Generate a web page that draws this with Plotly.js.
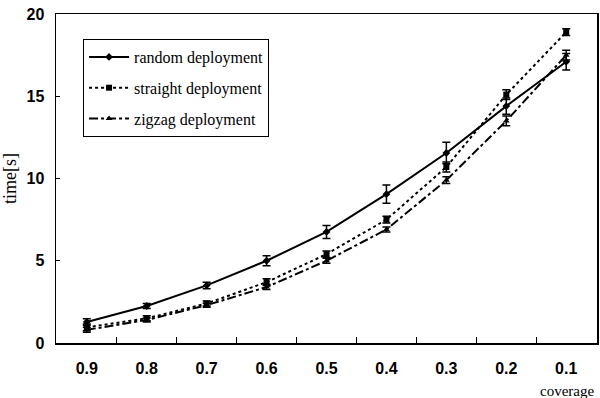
<!DOCTYPE html>
<html>
<head>
<meta charset="utf-8">
<script src="https://cdn.plot.ly/plotly-3.0.1.min.js"></script>
<style>html,body{margin:0;padding:0;background:#fff;}#chart{width:600px;height:398px;}</style>
</head>
<body>
<div id="chart"></div>
<script>
const coverage = ["0.9","0.8","0.7","0.6","0.5","0.4","0.3","0.2","0.1"];
const randomTime = [1.28, 2.25, 3.5, 5.0, 6.75, 9.05, 11.55, 14.4, 17.1];
const randomErr  = [0.2, 0.15, 0.2, 0.3, 0.4, 0.55, 0.65, 0.5, 0.5];
const straightTime = [0.95, 1.5, 2.4, 3.7, 5.4, 7.5, 10.7, 15.1, 18.9];
const straightErr  = [0.2, 0.15, 0.15, 0.2, 0.2, 0.2, 0.3, 0.3, 0.2];
const zigzagTime = [0.8, 1.4, 2.3, 3.4, 5.0, 6.9, 9.9, 13.5, 17.5];
const zigzagErr  = [0.15, 0.12, 0.12, 0.15, 0.15, 0.15, 0.2, 0.3, 0.3];
const names = ["random deployment", "straight deployment", "zigzag deployment"];

const serif = "'Liberation Serif', 'Times New Roman', serif";
const narrow = "'Liberation Sans Narrow', 'Arial Narrow', 'Liberation Sans', sans-serif";

function tr(y, err, name, dash, symbol, grp) {
  return {
    x: coverage, y: y, name: name, type: "scatter", mode: "lines+markers",
    legendgroup: grp,
    line: {color: "#000", width: 2, dash: dash},
    marker: {symbol: symbol, size: 6, color: "#000"},
    error_y: {type: "data", array: err, visible: true, color: "#000", thickness: 1.5, width: 4}
  };
}
const data = [
  tr(randomTime, randomErr, names[0], "solid", "diamond", "a"),
  tr(straightTime, straightErr, names[1], "dot", "square", "b"),
  tr(zigzagTime, zigzagErr, names[2], "dashdot", "triangle-up", "c")
];
const layout = {
  width: 600, height: 398,
  margin: {l: 56, r: 3, t: 14, b: 55},
  paper_bgcolor: "#fff", plot_bgcolor: "#fff",
  showlegend: true,
  legend: {
    x: 0.05, y: 0.924, xanchor: "left", yanchor: "top",
    bordercolor: "#000", borderwidth: 1, bgcolor: "#fff",
    font: {family: serif, size: 16, color: "#000"},
    tracegroupgap: 7, traceorder: "grouped", itemwidth: 40
  },
  xaxis: {
    type: "category", tickson: "boundaries", ticks: "inside", ticklen: 6,
    tickcolor: "#000", showline: true, linecolor: "#000", linewidth: 1.5, mirror: true,
    showgrid: false, zeroline: false, ticklabelstandoff: 10,
    tickfont: {family: narrow, size: 16, color: "#000", weight: "bold"}
  },
  yaxis: {
    range: [0, 20], tickvals: [0, 5, 10, 15, 20], ticks: "inside", ticklen: 4,
    tickcolor: "#000", showline: true, linecolor: "#000", linewidth: 1.5, mirror: true,
    showgrid: false, zeroline: false, ticklabelstandoff: 7,
    tickfont: {family: narrow, size: 16, color: "#000", weight: "bold"},
    title: {text: "time[s]", standoff: 6, font: {family: serif, size: 18, color: "#000"}}
  },
  annotations: [{
    text: "coverage", xref: "paper", yref: "paper", x: 0.945, y: -0.115,
    xanchor: "center", yanchor: "top", showarrow: false,
    font: {family: serif, size: 15, color: "#000"}
  }]
};
Plotly.newPlot("chart", data, layout, {displayModeBar: false, staticPlot: true});
</script>
</body>
</html>
